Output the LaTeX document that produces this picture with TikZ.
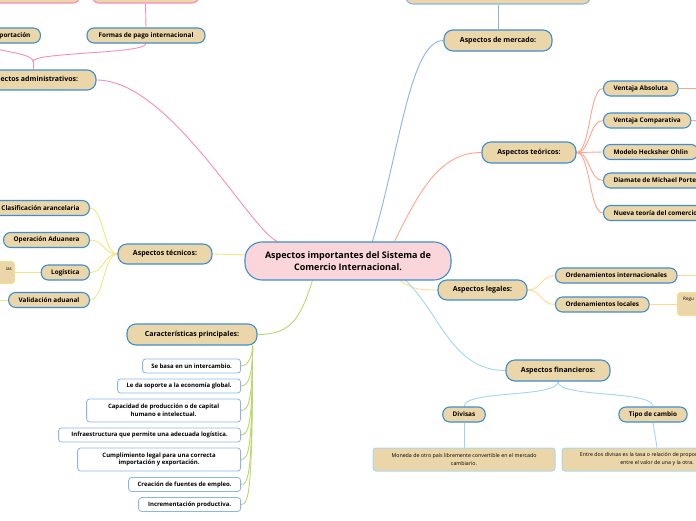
\documentclass[tikz,border=0pt]{standalone}
\usepackage{fontspec}
\setmainfont{Open Sans}
\usetikzlibrary{calc,backgrounds}
\definecolor{nodeblue}{HTML}{3E8ED0}
\definecolor{tanfill}{HTML}{EAD6A8}
\definecolor{ctrpink}{HTML}{FAD5D9}
\definecolor{pinkc}{HTML}{F78DBC}
\definecolor{mercline}{HTML}{8DB2EA}
\definecolor{salmonc}{HTML}{FFA58C}
\definecolor{tecline}{HTML}{F5E57E}
\definecolor{legline}{HTML}{FFD98C}
\definecolor{finline}{HTML}{9DD7F2}
\definecolor{grnline}{HTML}{B7D96C}
\definecolor{charborder}{HTML}{8BB5EA}
\definecolor{descyel}{HTML}{F9DE8E}
\definecolor{descblue}{HTML}{A6D9F0}
\begin{document}
\begin{tikzpicture}[x=1pt,y=-1pt,
  ctrbox/.style={draw=nodeblue, line width=1.1pt, fill=ctrpink, rounded corners=17pt, align=center, inner sep=0pt, font=\bfseries\fontsize{9}{11.5}\selectfont},
  mainbox/.style={draw=nodeblue, line width=1.1pt, fill=tanfill, rounded corners=9pt, minimum height=21pt, inner sep=0pt, font=\bfseries\fontsize{7}{8}\selectfont},
  leafbox/.style={draw=nodeblue, line width=1.1pt, fill=tanfill, rounded corners=7pt, minimum height=15pt, inner ysep=0pt, inner xsep=10pt, font=\bfseries\fontsize{6.4}{7}\selectfont},
  charbox/.style={draw=charborder, line width=0.8pt, fill=white, rounded corners=3pt, anchor=east, minimum height=14pt, inner ysep=0pt, inner xsep=4pt, align=center, font=\bfseries\fontsize{6}{7.6}\selectfont},
  descbox/.style={line width=1pt, fill=tanfill, rounded corners=3pt, inner sep=0pt, align=center, font=\fontsize{5.3}{8}\selectfont},
  conn/.style={line width=0.9pt},
]
\useasboundingbox (0,0) rectangle (696,520);

% centre
\node[ctrbox, minimum width=206pt, minimum height=38pt] (ctr) at (348,261) {Aspectos importantes del Sistema de\\Comercio Internacional.};

% main branches
\node[mainbox, minimum width=108pt] (merc) at (498,40.5) {Aspectos de mercado:};
\node[mainbox, minimum width=94pt] (teo) at (529,152.5) {Aspectos teóricos:};
\node[mainbox, minimum width=89pt, minimum height=20pt] (leg) at (482.5,290) {Aspectos legales:};
\node[mainbox, minimum width=104pt] (fin) at (558,370.5) {Aspectos financieros:};
\node[mainbox, minimum width=94pt, minimum height=20pt] (tec) at (165,254) {Aspectos técnicos:};
\node[mainbox, minimum width=130pt] (car) at (192,334.5) {Características principales:};
\node[mainbox, minimum width=126pt, minimum height=20pt] (adm) at (33,80) {Aspectos administrativos:};

% top (cut) boxes
\node[leafbox, draw=pinkc, minimum width=107pt, minimum height=16pt] (tfp) at (145.5,-5) {};
\node[leafbox, draw=pinkc, minimum width=120pt, minimum height=16pt] (tie) at (20,-5) {};
\node[leafbox, draw=mercline, minimum width=184pt, minimum height=16pt] (tmk) at (498,-4) {};

% administrativos children
\node[leafbox, anchor=east] (ie) at (41,35.5) {Importación y exportación};
\node[leafbox, minimum width=118pt] (fp) at (146,35.5) {Formas de pago internacional};

% teoricos children
\node[leafbox, anchor=west] (va) at (603,88.5) {Ventaja Absoluta};
\node[leafbox, anchor=west] (vc) at (603,120.5) {Ventaja Comparativa};
\node[leafbox, anchor=west] (mh) at (603,152) {Modelo Hecksher Ohlin};
\node[leafbox, anchor=west] (dp) at (603,180.5) {Diamate de Michael Porter};
\node[leafbox, anchor=west] (nt) at (603,213) {Nueva teoría del comercio internacional};
\coordinate (vaX) at (700,88.5);
\coordinate (vcX) at (700,120.5);

% legales children
\node[leafbox, anchor=west] (oi) at (555,275.5) {Ordenamientos internacionales};
\node[leafbox, anchor=west] (ol) at (555,304.5) {Ordenamientos locales};
\node[descbox, draw=descyel, anchor=north west, minimum width=40pt, minimum height=23pt,
  label={[anchor=north west, inner sep=0pt, xshift=6pt, yshift=-5pt, font=\fontsize{4.6}{5}\selectfont]north west:Regu}] (regu) at (677,292) {};
\coordinate (oiX) at (700,275.5);

% tecnicos children
\node[leafbox, anchor=east] (cl) at (90,208) {Clasificación arancelaria};
\node[leafbox, anchor=east] (oa) at (90,240) {Operación Aduanera};
\node[leafbox, anchor=east] (lg) at (90,272.5) {Logística};
\node[leafbox, anchor=east] (vd) at (90,300) {Validación aduanal};
\node[descbox, draw=descyel, anchor=north east, minimum width=40pt, minimum height=22pt,
  label={[anchor=north east, inner sep=0pt, xshift=-3pt, yshift=-6pt, font=\fontsize{4.6}{5}\selectfont]north east:ias}] (lgd) at (15,261) {};
\coordinate (vdX) at (-4,300);

% caracteristicas children
\node[charbox, minimum width=98pt] (c1) at (241,366) {Se basa en un intercambio.};
\node[charbox, minimum width=123pt] (c2) at (241,386) {Le da soporte a la economía global.};
\node[charbox, minimum width=154pt, minimum height=23pt] (c3) at (241,410.5) {Capacidad de producción o de capital\\humano e intelectual.};
\node[charbox, minimum width=182pt] (c4) at (241,435) {Infraestructura que permite una adecuada logística.};
\node[charbox, minimum width=163pt, minimum height=23pt] (c5) at (241,459.5) {Cumplimiento legal para una correcta\\importación y exportación.};
\node[charbox, minimum width=112pt] (c6) at (241,484.5) {Creación de fuentes de empleo.};
\node[charbox, minimum width=102pt] (c7) at (241,504.5) {Incrementación productiva.};

% financieros children
\node[leafbox] (dv) at (464,414.5) {Divisas};
\node[leafbox] (tc) at (653,414.5) {Tipo de cambio};
\node[descbox, draw=descblue, minimum width=182pt, minimum height=23pt] (dvd) at (464,459.5) {Moneda de otro país libremente convertible en el mercado\\cambiario.};
\node[descbox, draw=descblue, minimum width=190pt, minimum height=23pt] (tcd) at (657,459.5) {Entre dos divisas es la tasa o relación de proporción que existe\\entre el valor de una y la otra.};

\begin{pgfonlayer}{background}
% main connectors
\draw[conn, pinkc] ($(ctr.north west)+(33,0)$) .. controls (250,230) and (170,80) .. (adm.east);
\draw[conn, mercline] ($(ctr.north west)+(128,0)$) .. controls (400,150) and (410,40.5) .. (merc.west);
\draw[conn, salmonc] ($(ctr.north west)+(150,0)$) .. controls (420,190) and (440,152.5) .. (teo.west);
\draw[conn, legline] ($(ctr.south west)+(155,0)$) .. controls (415,290) and (420,290) .. (leg.west);
\draw[conn, finline] ($(ctr.south west)+(157,-4)$) .. controls (440,310) and (450,370.5) .. (fin.west);
\draw[conn, grnline] ($(ctr.south west)+(68,0)$) .. controls (300,320) and (290,334.5) .. (car.east);
\draw[conn, tecline] (tec.east) -- ($(ctr.west)+(3,-6)$);

% top
\draw[conn, mercline] (merc.north) -- (tmk.south);
\draw[conn, pinkc] (adm.north) -- ++(0,-8) coordinate (ab);
\draw[conn, pinkc] (ab) .. controls (33,52) and (146,54) .. (fp.south);
\draw[conn, pinkc] (ab) .. controls (33,52) and ($(ie.south)+(0,8)$) .. (ie.south);
\draw[conn, pinkc] (fp.north) -- (tfp.south);

% teoricos
\foreach \n in {va,vc,mh,dp,nt}
  \draw[conn, salmonc] (teo.east) .. controls ($(teo.east)+(14,0)$) and ($(\n.west)+(-14,0)$) .. (\n.west);
\draw[conn, salmonc] (va.east) -- (vaX);
\draw[conn, salmonc] (vc.east) -- (vcX);

% legales
\foreach \n in {oi,ol}
  \draw[conn, legline] (leg.east) .. controls ($(leg.east)+(14,0)$) and ($(\n.west)+(-14,0)$) .. (\n.west);
\draw[conn, legline] (oi.east) -- (oiX);
\draw[conn, legline] (ol.east) -- (ol.east -| regu.west);

% tecnicos
\foreach \n in {cl,oa,lg,vd}
  \draw[conn, tecline] (tec.west) .. controls ($(tec.west)+(-14,0)$) and ($(\n.east)+(14,0)$) .. (\n.east);
\draw[conn, tecline] (lg.west) -- (lg.west -| lgd.east);
\draw[conn, tecline] (vd.west) -- (vdX);

% caracteristicas
\coordinate (cg) at ($(car.south east)+(-5,0)$);
\foreach \n in {c1,c2,c3,c4,c5,c6,c7}
  \draw[conn, grnline] (cg) .. controls ($(cg |- \n.east)+(0,-12)$) and ($(\n.east)+(8,0)$) .. (\n.east);

% financieros
\draw[conn, finline] (fin.south) .. controls (558,398) and (464,390) .. (dv.north);
\draw[conn, finline] (fin.south) .. controls (558,398) and (653,390) .. (tc.north);
\draw[conn, finline] (dv.south) -- (dvd.north);
\draw[conn, finline] (tc.south) -- (tcd.north);
\end{pgfonlayer}
\end{tikzpicture}
\end{document}
